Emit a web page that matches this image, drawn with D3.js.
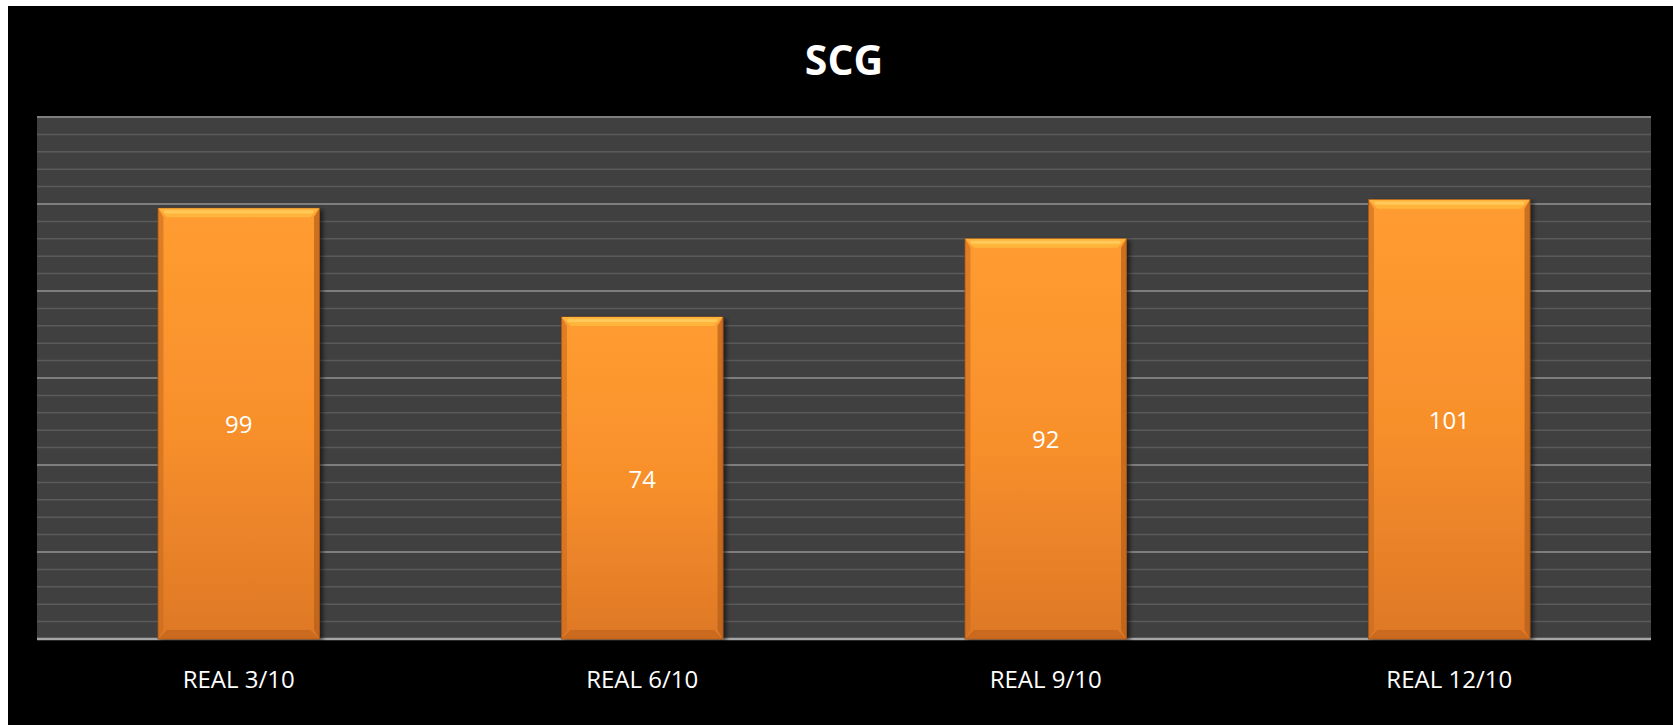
<!DOCTYPE html>
<html>
<head>
<meta charset="utf-8">
<script src="https://cdn.jsdelivr.net/npm/d3@7.9.0/dist/d3.min.js"></script>
<style>
  html, body { margin: 0; padding: 0; background: #fff; }
  svg { display: block; }
</style>
</head>
<body>
<svg id="chart" width="1673" height="725"></svg>
<script>
// chart data
const categories = ['REAL 3/10', 'REAL 6/10', 'REAL 9/10', 'REAL 12/10'];
const values = [99, 74, 92, 101];
const chartTitle = 'SCG';
const yMax = 120;

const W = 1673, H = 725;
const margin = { top: 117, right: 22, bottom: 86, left: 37 };

const svg = d3.select('#chart');

// black chart frame (white sliver on the top/left like the original)
svg.append('rect')
  .attr('x', 8).attr('y', 6)
  .attr('width', W - 8).attr('height', H - 6)
  .attr('fill', '#000');

const defs = svg.append('defs');

const grad = defs.append('linearGradient')
  .attr('id', 'barGrad')
  .attr('x1', 0).attr('y1', 0).attr('x2', 0).attr('y2', 1);
grad.append('stop').attr('offset', '0%').attr('stop-color', '#ff9c30');
grad.append('stop').attr('offset', '50%').attr('stop-color', '#f8902c');
grad.append('stop').attr('offset', '100%').attr('stop-color', '#de7826');

const shadow = defs.append('filter')
  .attr('id', 'barShadow')
  .attr('x', '-10%').attr('y', '-10%').attr('width', '130%').attr('height', '130%');
shadow.append('feDropShadow')
  .attr('dx', 3).attr('dy', 2).attr('stdDeviation', 2)
  .attr('flood-color', '#000').attr('flood-opacity', 0.55);

const x = d3.scaleBand()
  .domain(categories)
  .range([margin.left, W - margin.right])
  .paddingInner(0.6)
  .paddingOuter(0.3);

const y = d3.scaleLinear()
  .domain([0, yMax])
  .range([H - margin.bottom, margin.top]);

// plot area
svg.append('rect')
  .attr('x', margin.left).attr('y', margin.top)
  .attr('width', W - margin.left - margin.right)
  .attr('height', H - margin.top - margin.bottom)
  .attr('fill', '#404040');

// minor gridlines
svg.append('g')
  .selectAll('line')
  .data(d3.range(0, yMax + 1, 4).filter(v => v % 20 !== 0))
  .join('line')
  .attr('x1', margin.left).attr('x2', W - margin.right)
  .attr('y1', d => y(d)).attr('y2', d => y(d))
  .attr('stroke', '#5a5a5a').attr('stroke-width', 1.5);

// major gridlines
svg.append('g')
  .selectAll('line')
  .data(d3.range(20, yMax + 1, 20))
  .join('line')
  .attr('x1', margin.left).attr('x2', W - margin.right)
  .attr('y1', d => y(d)).attr('y2', d => y(d))
  .attr('stroke', '#7e7e7e').attr('stroke-width', 2);

// baseline
svg.append('line')
  .attr('x1', margin.left).attr('x2', W - margin.right)
  .attr('y1', y(0)).attr('y2', y(0))
  .attr('stroke', '#a6a6a6').attr('stroke-width', 2.5);

const data = categories.map((c, i) => ({ cat: c, val: values[i] }));
const bw = x.bandwidth();
const bev = 9;

const bars = svg.append('g')
  .selectAll('g')
  .data(data)
  .join('g');

bars.append('rect')
  .attr('x', d => x(d.cat))
  .attr('y', d => y(d.val))
  .attr('width', bw)
  .attr('height', d => y(0) - y(d.val))
  .attr('fill', 'url(#barGrad)')
  .attr('stroke', '#9a4f14')
  .attr('stroke-width', 1)
  .attr('filter', 'url(#barShadow)');

// bevel: top highlight
bars.append('polygon')
  .attr('points', d => {
    const x0 = x(d.cat), y0 = y(d.val);
    return [[x0, y0], [x0 + bw, y0], [x0 + bw - bev, y0 + bev], [x0 + bev, y0 + bev]].join(' ');
  })
  .attr('fill', '#ffb43c');
bars.append('rect')
  .attr('x', d => x(d.cat) + 6)
  .attr('y', d => y(d.val) + 2)
  .attr('width', bw - 12)
  .attr('height', 3)
  .attr('fill', '#ffd060')
  .attr('opacity', 0.8);

// bevel: left and right edges
bars.append('polygon')
  .attr('points', d => {
    const x0 = x(d.cat), y0 = y(d.val), y1 = y(0);
    return [[x0, y0], [x0 + bev * 0.6, y0 + bev], [x0 + bev * 0.6, y1 - bev], [x0, y1]].join(' ');
  })
  .attr('fill', '#c86a1e').attr('opacity', 0.6);
bars.append('polygon')
  .attr('points', d => {
    const x1 = x(d.cat) + bw, y0 = y(d.val), y1 = y(0);
    return [[x1, y0], [x1 - bev * 0.6, y0 + bev], [x1 - bev * 0.6, y1 - bev], [x1, y1]].join(' ');
  })
  .attr('fill', '#b45e18').attr('opacity', 0.7);

// bevel: bottom
bars.append('polygon')
  .attr('points', d => {
    const x0 = x(d.cat), y1 = y(0);
    return [[x0, y1], [x0 + bev, y1 - bev], [x0 + bw - bev, y1 - bev], [x0 + bw, y1]].join(' ');
  })
  .attr('fill', '#c4661d').attr('opacity', 0.8);

// value labels
bars.append('text')
  .attr('x', d => x(d.cat) + bw / 2)
  .attr('y', d => (y(d.val) + y(0)) / 2)
  .attr('text-anchor', 'middle')
  .attr('dominant-baseline', 'central')
  .attr('font-family', 'Open Sans, sans-serif')
  .attr('font-size', 24)
  .attr('fill', '#fff')
  .text(d => d.val);

// category axis labels
const xAxis = svg.append('g')
  .attr('transform', `translate(0,${y(0)})`)
  .call(d3.axisBottom(x).tickSize(0).tickPadding(32));
xAxis.select('.domain').remove();
xAxis.selectAll('text')
  .attr('font-family', 'Open Sans, sans-serif')
  .attr('font-size', 24)
  .attr('fill', '#fff');

// title
svg.append('text')
  .attr('x', (margin.left + W - margin.right) / 2)
  .attr('y', 59)
  .attr('text-anchor', 'middle')
  .attr('dominant-baseline', 'central')
  .attr('font-family', 'Open Sans, sans-serif')
  .attr('font-weight', 'bold')
  .attr('font-size', 41)
  .attr('fill', '#fff')
  .text(chartTitle);
</script>
</body>
</html>
